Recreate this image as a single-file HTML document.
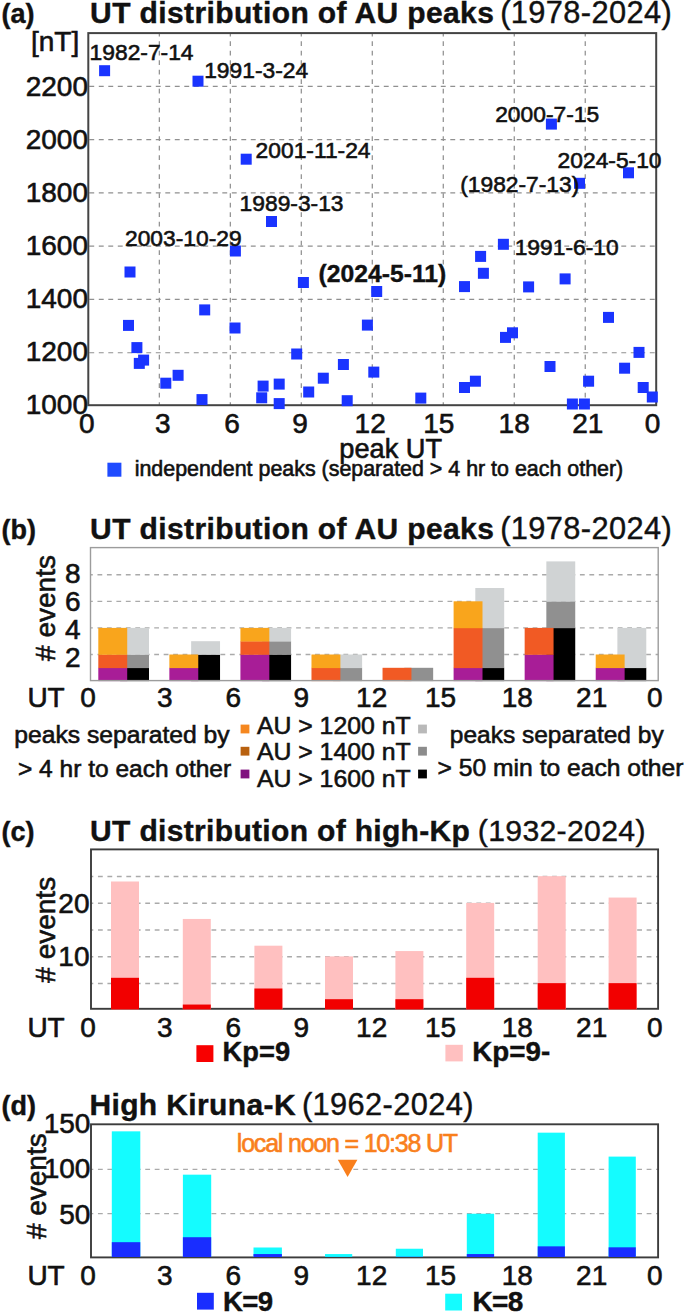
<!DOCTYPE html>
<html lang="en">
<head>
<meta charset="utf-8">
<title>UT distribution of AU peaks</title>
<style>
html,body{margin:0;padding:0;background:#fff;}
svg{display:block;font-family:'Liberation Sans', sans-serif;}
</style>
</head>
<body>
<svg width="685" height="1314" viewBox="0 0 685 1314">
<rect x="0" y="0" width="685" height="1314" fill="#ffffff"/>
<text x="1.5" y="23.3" font-size="27" font-weight="bold" text-anchor="start" fill="#111" stroke="#111" stroke-width="0.4">(a)</text>
<text x="90.1" y="23.3" font-size="30" fill="#111" stroke="#111" stroke-width="0.4" letter-spacing="0.38" xml:space="preserve"><tspan font-weight="bold">UT distribution of AU peaks</tspan><tspan font-weight="normal" font-size="30.8" dx="-3"> (1978-2024)</tspan></text>
<line x1="159.29" y1="33.10" x2="159.29" y2="405.20" stroke="#7c7c7c" stroke-width="1.05" stroke-dasharray="4.9 4.6" stroke-dashoffset="1.45"/>
<line x1="230.28" y1="33.10" x2="230.28" y2="405.20" stroke="#7c7c7c" stroke-width="1.05" stroke-dasharray="4.9 4.6" stroke-dashoffset="1.45"/>
<line x1="301.26" y1="33.10" x2="301.26" y2="405.20" stroke="#7c7c7c" stroke-width="1.05" stroke-dasharray="4.9 4.6" stroke-dashoffset="1.45"/>
<line x1="372.25" y1="33.10" x2="372.25" y2="405.20" stroke="#7c7c7c" stroke-width="1.05" stroke-dasharray="4.9 4.6" stroke-dashoffset="1.45"/>
<line x1="443.24" y1="33.10" x2="443.24" y2="405.20" stroke="#7c7c7c" stroke-width="1.05" stroke-dasharray="4.9 4.6" stroke-dashoffset="1.45"/>
<line x1="514.23" y1="33.10" x2="514.23" y2="405.20" stroke="#7c7c7c" stroke-width="1.05" stroke-dasharray="4.9 4.6" stroke-dashoffset="1.45"/>
<line x1="585.21" y1="33.10" x2="585.21" y2="405.20" stroke="#7c7c7c" stroke-width="1.05" stroke-dasharray="4.9 4.6" stroke-dashoffset="1.45"/>
<line x1="88.30" y1="352.72" x2="656.20" y2="352.72" stroke="#909090" stroke-width="1.15" stroke-dasharray="4.9 4.6" stroke-dashoffset="8.5"/>
<line x1="88.30" y1="299.44" x2="656.20" y2="299.44" stroke="#909090" stroke-width="1.15" stroke-dasharray="4.9 4.6" stroke-dashoffset="8.5"/>
<line x1="88.30" y1="246.16" x2="656.20" y2="246.16" stroke="#909090" stroke-width="1.15" stroke-dasharray="4.9 4.6" stroke-dashoffset="8.5"/>
<line x1="88.30" y1="192.88" x2="656.20" y2="192.88" stroke="#909090" stroke-width="1.15" stroke-dasharray="4.9 4.6" stroke-dashoffset="8.5"/>
<line x1="88.30" y1="139.60" x2="656.20" y2="139.60" stroke="#909090" stroke-width="1.15" stroke-dasharray="4.9 4.6" stroke-dashoffset="8.5"/>
<line x1="88.30" y1="86.32" x2="656.20" y2="86.32" stroke="#909090" stroke-width="1.15" stroke-dasharray="4.9 4.6" stroke-dashoffset="8.5"/>
<text x="31" y="51.3" font-size="28" text-anchor="start" fill="#111" stroke="#111" stroke-width="0.6">[nT]</text>
<text x="88" y="95.6" font-size="28" text-anchor="end" fill="#111" stroke="#111" stroke-width="0.6">2200</text>
<text x="88" y="148.9" font-size="28" text-anchor="end" fill="#111" stroke="#111" stroke-width="0.6">2000</text>
<text x="88" y="202.1" font-size="28" text-anchor="end" fill="#111" stroke="#111" stroke-width="0.6">1800</text>
<text x="88" y="255.4" font-size="28" text-anchor="end" fill="#111" stroke="#111" stroke-width="0.6">1600</text>
<text x="88" y="308.4" font-size="28" text-anchor="end" fill="#111" stroke="#111" stroke-width="0.6">1400</text>
<text x="88" y="361.3" font-size="28" text-anchor="end" fill="#111" stroke="#111" stroke-width="0.6">1200</text>
<text x="88" y="414.4" font-size="28" text-anchor="end" fill="#111" stroke="#111" stroke-width="0.6">1000</text>
<text x="86.7" y="433.1" font-size="28" text-anchor="middle" fill="#111" stroke="#111" stroke-width="0.6">0</text>
<text x="162.8" y="433.1" font-size="28" text-anchor="middle" fill="#111" stroke="#111" stroke-width="0.6">3</text>
<text x="232" y="433.1" font-size="28" text-anchor="middle" fill="#111" stroke="#111" stroke-width="0.6">6</text>
<text x="300" y="433.1" font-size="28" text-anchor="middle" fill="#111" stroke="#111" stroke-width="0.6">9</text>
<text x="370.2" y="433.1" font-size="28" text-anchor="middle" fill="#111" stroke="#111" stroke-width="0.6">12</text>
<text x="438.8" y="433.1" font-size="28" text-anchor="middle" fill="#111" stroke="#111" stroke-width="0.6">15</text>
<text x="514.2" y="433.1" font-size="28" text-anchor="middle" fill="#111" stroke="#111" stroke-width="0.6">18</text>
<text x="587.8" y="433.1" font-size="28" text-anchor="middle" fill="#111" stroke="#111" stroke-width="0.6">21</text>
<text x="652.5" y="433.1" font-size="28" text-anchor="middle" fill="#111" stroke="#111" stroke-width="0.6">0</text>
<text x="339.3" y="458.2" font-size="27.2" text-anchor="start" fill="#111" stroke="#111" stroke-width="0.6">peak UT</text>
<rect x="88.3" y="33.1" width="567.9000000000001" height="372.09999999999997" fill="none" stroke="#444" stroke-width="2"/>
<rect x="99.10" y="65.20" width="11.00" height="11.00" fill="#1a34ff"/>
<rect x="192.50" y="75.70" width="11.00" height="11.00" fill="#1a34ff"/>
<rect x="240.70" y="153.70" width="11.00" height="11.00" fill="#1a34ff"/>
<rect x="266.00" y="216.00" width="11.00" height="11.00" fill="#1a34ff"/>
<rect x="229.90" y="245.50" width="11.00" height="11.00" fill="#1a34ff"/>
<rect x="124.50" y="266.50" width="11.00" height="11.00" fill="#1a34ff"/>
<rect x="123.00" y="319.90" width="11.00" height="11.00" fill="#1a34ff"/>
<rect x="131.40" y="342.10" width="11.00" height="11.00" fill="#1a34ff"/>
<rect x="138.10" y="354.60" width="11.00" height="11.00" fill="#1a34ff"/>
<rect x="133.80" y="357.90" width="11.00" height="11.00" fill="#1a34ff"/>
<rect x="160.30" y="377.70" width="11.00" height="11.00" fill="#1a34ff"/>
<rect x="172.60" y="369.80" width="11.00" height="11.00" fill="#1a34ff"/>
<rect x="199.20" y="304.40" width="11.00" height="11.00" fill="#1a34ff"/>
<rect x="196.50" y="394.10" width="11.00" height="11.00" fill="#1a34ff"/>
<rect x="229.50" y="322.50" width="11.00" height="11.00" fill="#1a34ff"/>
<rect x="257.60" y="380.60" width="11.00" height="11.00" fill="#1a34ff"/>
<rect x="256.20" y="392.30" width="11.00" height="11.00" fill="#1a34ff"/>
<rect x="273.70" y="378.60" width="11.00" height="11.00" fill="#1a34ff"/>
<rect x="273.70" y="398.10" width="11.00" height="11.00" fill="#1a34ff"/>
<rect x="297.90" y="277.00" width="11.00" height="11.00" fill="#1a34ff"/>
<rect x="371.20" y="286.00" width="11.00" height="11.00" fill="#1a34ff"/>
<rect x="361.90" y="319.60" width="11.00" height="11.00" fill="#1a34ff"/>
<rect x="291.20" y="348.50" width="11.00" height="11.00" fill="#1a34ff"/>
<rect x="337.90" y="359.00" width="11.00" height="11.00" fill="#1a34ff"/>
<rect x="368.30" y="366.60" width="11.00" height="11.00" fill="#1a34ff"/>
<rect x="317.80" y="372.70" width="11.00" height="11.00" fill="#1a34ff"/>
<rect x="303.20" y="386.50" width="11.00" height="11.00" fill="#1a34ff"/>
<rect x="341.70" y="395.20" width="11.00" height="11.00" fill="#1a34ff"/>
<rect x="415.30" y="392.60" width="11.00" height="11.00" fill="#1a34ff"/>
<rect x="497.90" y="238.80" width="11.00" height="11.00" fill="#1a34ff"/>
<rect x="475.10" y="250.90" width="11.00" height="11.00" fill="#1a34ff"/>
<rect x="477.90" y="267.80" width="11.00" height="11.00" fill="#1a34ff"/>
<rect x="459.00" y="281.10" width="11.00" height="11.00" fill="#1a34ff"/>
<rect x="523.10" y="281.40" width="11.00" height="11.00" fill="#1a34ff"/>
<rect x="559.60" y="273.40" width="11.00" height="11.00" fill="#1a34ff"/>
<rect x="603.00" y="311.90" width="11.00" height="11.00" fill="#1a34ff"/>
<rect x="507.00" y="327.30" width="11.00" height="11.00" fill="#1a34ff"/>
<rect x="500.00" y="331.90" width="11.00" height="11.00" fill="#1a34ff"/>
<rect x="633.50" y="346.90" width="11.00" height="11.00" fill="#1a34ff"/>
<rect x="544.50" y="361.00" width="11.00" height="11.00" fill="#1a34ff"/>
<rect x="619.10" y="362.70" width="11.00" height="11.00" fill="#1a34ff"/>
<rect x="583.10" y="375.70" width="11.00" height="11.00" fill="#1a34ff"/>
<rect x="469.90" y="375.70" width="11.00" height="11.00" fill="#1a34ff"/>
<rect x="459.00" y="382.00" width="11.00" height="11.00" fill="#1a34ff"/>
<rect x="637.70" y="382.00" width="11.00" height="11.00" fill="#1a34ff"/>
<rect x="646.80" y="391.50" width="11.00" height="11.00" fill="#1a34ff"/>
<rect x="566.90" y="398.50" width="11.00" height="11.00" fill="#1a34ff"/>
<rect x="578.90" y="398.50" width="11.00" height="11.00" fill="#1a34ff"/>
<rect x="545.90" y="118.60" width="11.00" height="11.00" fill="#1a34ff"/>
<rect x="623.00" y="167.30" width="11.00" height="11.00" fill="#1a34ff"/>
<rect x="574.00" y="177.80" width="11.00" height="11.00" fill="#1a34ff"/>
<text x="89.6" y="60.2" font-size="22.8" text-anchor="start" fill="#111" stroke="#111" stroke-width="0.6">1982-7-14</text>
<text x="204.2" y="77.7" font-size="22.8" text-anchor="start" fill="#111" stroke="#111" stroke-width="0.6">1991-3-24</text>
<text x="255.6" y="158.3" font-size="22.8" text-anchor="start" fill="#111" stroke="#111" stroke-width="0.6">2001-11-24</text>
<text x="239.6" y="210.9" font-size="22.8" text-anchor="start" fill="#111" stroke="#111" stroke-width="0.6">1989-3-13</text>
<text x="125.0" y="246.1" font-size="22.8" text-anchor="start" fill="#111" stroke="#111" stroke-width="0.6">2003-10-29</text>
<text x="495.2" y="122.1" font-size="22.8" text-anchor="start" fill="#111" stroke="#111" stroke-width="0.6">2000-7-15</text>
<text x="557.6" y="167.9" font-size="22.8" text-anchor="start" fill="#111" stroke="#111" stroke-width="0.6">2024-5-10</text>
<text x="460.2" y="192.4" font-size="22.8" text-anchor="start" fill="#111" stroke="#111" stroke-width="0.6">(1982-7-13)</text>
<text x="514.7" y="254.9" font-size="22.8" text-anchor="start" fill="#111" stroke="#111" stroke-width="0.6">1991-6-10</text>
<text x="318.6" y="282" font-size="24.7" font-weight="bold" text-anchor="start" fill="#111" stroke="#111" stroke-width="0.4">(2024-5-11)</text>
<rect x="107.40" y="462.70" width="14.00" height="14.00" fill="#1f4bff"/>
<text x="134.7" y="476.2" font-size="21.42" text-anchor="start" fill="#111" stroke="#111" stroke-width="0.6">independent peaks (separated &gt; 4 hr to each other)</text>
<text x="1.5" y="539" font-size="27" font-weight="bold" text-anchor="start" fill="#111" stroke="#111" stroke-width="0.4">(b)</text>
<text x="90.1" y="539" font-size="30" fill="#111" stroke="#111" stroke-width="0.4" letter-spacing="0.38" xml:space="preserve"><tspan font-weight="bold">UT distribution of AU peaks</tspan><tspan font-weight="normal" font-size="30.8" dx="-3"> (1978-2024)</tspan></text>
<line x1="90.50" y1="654.50" x2="658.20" y2="654.50" stroke="#aaaaaa" stroke-width="1.35" stroke-dasharray="4.8 4.66" stroke-dashoffset="2.5"/>
<line x1="90.50" y1="627.90" x2="658.20" y2="627.90" stroke="#aaaaaa" stroke-width="1.35" stroke-dasharray="4.8 4.66" stroke-dashoffset="2.5"/>
<line x1="90.50" y1="601.30" x2="658.20" y2="601.30" stroke="#aaaaaa" stroke-width="1.35" stroke-dasharray="4.8 4.66" stroke-dashoffset="2.5"/>
<line x1="90.50" y1="574.70" x2="658.20" y2="574.70" stroke="#aaaaaa" stroke-width="1.35" stroke-dasharray="4.8 4.66" stroke-dashoffset="2.5"/>
<rect x="120.10" y="667.80" width="28.90" height="13.30" fill="#000"/>
<rect x="120.10" y="654.50" width="28.90" height="13.60" fill="#909090"/>
<rect x="120.10" y="627.90" width="28.90" height="26.90" fill="#d0d3d4"/>
<rect x="98.30" y="667.80" width="28.90" height="13.30" fill="#a81d97"/>
<rect x="98.30" y="654.50" width="28.90" height="13.60" fill="#f15a24"/>
<rect x="98.30" y="627.90" width="28.90" height="26.90" fill="#f9a51c"/>
<rect x="191.14" y="654.50" width="28.90" height="26.60" fill="#000"/>
<rect x="191.14" y="641.20" width="28.90" height="13.60" fill="#d0d3d4"/>
<rect x="169.36" y="667.80" width="28.90" height="13.30" fill="#a81d97"/>
<rect x="169.36" y="654.50" width="28.90" height="13.60" fill="#f9a51c"/>
<rect x="262.18" y="654.50" width="28.90" height="26.60" fill="#000"/>
<rect x="262.18" y="641.20" width="28.90" height="13.60" fill="#909090"/>
<rect x="262.18" y="627.90" width="28.90" height="13.60" fill="#d0d3d4"/>
<rect x="240.42" y="654.50" width="28.90" height="26.60" fill="#a81d97"/>
<rect x="240.42" y="641.20" width="28.90" height="13.60" fill="#f15a24"/>
<rect x="240.42" y="627.90" width="28.90" height="13.60" fill="#f9a51c"/>
<rect x="333.22" y="667.80" width="28.90" height="13.30" fill="#909090"/>
<rect x="333.22" y="654.50" width="28.90" height="13.60" fill="#d0d3d4"/>
<rect x="311.48" y="667.80" width="28.90" height="13.30" fill="#f15a24"/>
<rect x="311.48" y="654.50" width="28.90" height="13.60" fill="#f9a51c"/>
<rect x="404.26" y="667.80" width="28.90" height="13.30" fill="#909090"/>
<rect x="382.54" y="667.80" width="28.90" height="13.30" fill="#f15a24"/>
<rect x="475.30" y="667.80" width="28.90" height="13.30" fill="#000"/>
<rect x="475.30" y="627.90" width="28.90" height="40.20" fill="#909090"/>
<rect x="475.30" y="588.00" width="28.90" height="40.20" fill="#d0d3d4"/>
<rect x="453.60" y="667.80" width="28.90" height="13.30" fill="#a81d97"/>
<rect x="453.60" y="627.90" width="28.90" height="40.20" fill="#f15a24"/>
<rect x="453.60" y="601.30" width="28.90" height="26.90" fill="#f9a51c"/>
<rect x="546.34" y="627.90" width="28.90" height="53.20" fill="#000"/>
<rect x="546.34" y="601.30" width="28.90" height="26.90" fill="#909090"/>
<rect x="546.34" y="561.40" width="28.90" height="40.20" fill="#d0d3d4"/>
<rect x="524.66" y="654.50" width="28.90" height="26.60" fill="#a81d97"/>
<rect x="524.66" y="627.90" width="28.90" height="26.90" fill="#f15a24"/>
<rect x="617.38" y="667.80" width="28.90" height="13.30" fill="#000"/>
<rect x="617.38" y="627.90" width="28.90" height="40.20" fill="#d0d3d4"/>
<rect x="595.72" y="667.80" width="28.90" height="13.30" fill="#a81d97"/>
<rect x="595.72" y="654.50" width="28.90" height="13.60" fill="#f9a51c"/>
<rect x="90.5" y="547.6" width="567.7" height="133.0" fill="none" stroke="#9c9c9c" stroke-width="1.4"/>
<text x="72.8" y="582.5" font-size="28" text-anchor="middle" fill="#111" stroke="#111" stroke-width="0.6">8</text>
<text x="72.8" y="610.5" font-size="28" text-anchor="middle" fill="#111" stroke="#111" stroke-width="0.6">6</text>
<text x="72.8" y="638.5" font-size="28" text-anchor="middle" fill="#111" stroke="#111" stroke-width="0.6">4</text>
<text x="72.8" y="666.5" font-size="28" text-anchor="middle" fill="#111" stroke="#111" stroke-width="0.6">2</text>
<text transform="translate(54.6,608) rotate(-90)" font-size="28" text-anchor="middle" fill="#111" stroke="#111" stroke-width="0.6"># events</text>
<text x="27.4" y="707.2" font-size="28" text-anchor="start" fill="#111" stroke="#111" stroke-width="0.6">UT</text>
<text x="88" y="707.2" font-size="28" text-anchor="middle" fill="#111" stroke="#111" stroke-width="0.6">0</text>
<text x="164.7" y="707.2" font-size="28" text-anchor="middle" fill="#111" stroke="#111" stroke-width="0.6">3</text>
<text x="233.3" y="707.2" font-size="28" text-anchor="middle" fill="#111" stroke="#111" stroke-width="0.6">6</text>
<text x="301.4" y="707.2" font-size="28" text-anchor="middle" fill="#111" stroke="#111" stroke-width="0.6">9</text>
<text x="371.7" y="707.2" font-size="28" text-anchor="middle" fill="#111" stroke="#111" stroke-width="0.6">12</text>
<text x="440.5" y="707.2" font-size="28" text-anchor="middle" fill="#111" stroke="#111" stroke-width="0.6">15</text>
<text x="517.3" y="707.2" font-size="28" text-anchor="middle" fill="#111" stroke="#111" stroke-width="0.6">18</text>
<text x="591.7" y="707.2" font-size="28" text-anchor="middle" fill="#111" stroke="#111" stroke-width="0.6">21</text>
<text x="654.8" y="707.2" font-size="28" text-anchor="middle" fill="#111" stroke="#111" stroke-width="0.6">0</text>
<text x="14.2" y="742.7" font-size="24.7" text-anchor="start" fill="#111" stroke="#111" stroke-width="0.6">peaks separated by</text>
<text x="18.0" y="777.2" font-size="24.5" text-anchor="start" fill="#111" stroke="#111" stroke-width="0.6">&gt; 4 hr to each other</text>
<rect x="240.60" y="724.60" width="8.80" height="8.80" fill="#f5871f"/>
<rect x="418.10" y="724.60" width="8.80" height="8.80" fill="#b9b9b9"/>
<text x="256.9" y="734.0" font-size="24.8" text-anchor="start" fill="#111" stroke="#111" stroke-width="0.6">AU &gt; 1200 nT</text>
<rect x="240.60" y="746.80" width="8.80" height="8.80" fill="#b8610f"/>
<rect x="418.10" y="746.80" width="8.80" height="8.80" fill="#8c8c8c"/>
<text x="256.9" y="760.3" font-size="24.8" text-anchor="start" fill="#111" stroke="#111" stroke-width="0.6">AU &gt; 1400 nT</text>
<rect x="240.60" y="769.60" width="8.80" height="8.80" fill="#80117f"/>
<rect x="418.10" y="769.60" width="8.80" height="8.80" fill="#000000"/>
<text x="256.9" y="786.5" font-size="24.8" text-anchor="start" fill="#111" stroke="#111" stroke-width="0.6">AU &gt; 1600 nT</text>
<text x="449.8" y="743.0" font-size="24.5" text-anchor="start" fill="#111" stroke="#111" stroke-width="0.6">peaks separated by</text>
<text x="437.6" y="775.9" font-size="24.65" text-anchor="start" fill="#111" stroke="#111" stroke-width="0.6">&gt; 50 min to each other</text>
<text x="1.5" y="840.7" font-size="27" font-weight="bold" text-anchor="start" fill="#111" stroke="#111" stroke-width="0.4">(c)</text>
<text x="90.1" y="840.7" font-size="30" fill="#111" stroke="#111" stroke-width="0.4" letter-spacing="0.33" xml:space="preserve"><tspan font-weight="bold">UT distribution of high-Kp</tspan><tspan font-weight="normal" font-size="30.2" dx="-1.2"> (1932-2024)</tspan></text>
<line x1="91.00" y1="983.45" x2="658.10" y2="983.45" stroke="#aaaaaa" stroke-width="1.35" stroke-dasharray="4.8 4.66" stroke-dashoffset="2.5"/>
<line x1="91.00" y1="956.70" x2="658.10" y2="956.70" stroke="#aaaaaa" stroke-width="1.35" stroke-dasharray="4.8 4.66" stroke-dashoffset="2.5"/>
<line x1="91.00" y1="929.95" x2="658.10" y2="929.95" stroke="#aaaaaa" stroke-width="1.35" stroke-dasharray="4.8 4.66" stroke-dashoffset="2.5"/>
<line x1="91.00" y1="903.20" x2="658.10" y2="903.20" stroke="#aaaaaa" stroke-width="1.35" stroke-dasharray="4.8 4.66" stroke-dashoffset="2.5"/>
<line x1="91.00" y1="876.45" x2="658.10" y2="876.45" stroke="#aaaaaa" stroke-width="1.35" stroke-dasharray="4.8 4.66" stroke-dashoffset="2.5"/>
<rect x="91" y="849.4" width="567.1" height="159.39999999999998" fill="none" stroke="#3c3c3c" stroke-width="1.9"/>
<rect x="111.00" y="881.50" width="28.00" height="127.90" fill="#ffc0c0"/>
<rect x="111.00" y="977.80" width="28.00" height="31.60" fill="#f20000"/>
<rect x="182.80" y="918.95" width="28.00" height="90.45" fill="#ffc0c0"/>
<rect x="182.80" y="1004.55" width="28.00" height="4.85" fill="#f20000"/>
<rect x="254.40" y="945.70" width="28.00" height="63.70" fill="#ffc0c0"/>
<rect x="254.40" y="988.50" width="28.00" height="20.90" fill="#f20000"/>
<rect x="325.00" y="956.40" width="28.00" height="53.00" fill="#ffc0c0"/>
<rect x="325.00" y="999.20" width="28.00" height="10.20" fill="#f20000"/>
<rect x="395.40" y="951.05" width="28.00" height="58.35" fill="#ffc0c0"/>
<rect x="395.40" y="999.20" width="28.00" height="10.20" fill="#f20000"/>
<rect x="466.20" y="902.90" width="28.00" height="106.50" fill="#ffc0c0"/>
<rect x="466.20" y="977.80" width="28.00" height="31.60" fill="#f20000"/>
<rect x="537.70" y="876.15" width="28.00" height="133.25" fill="#ffc0c0"/>
<rect x="537.70" y="983.15" width="28.00" height="26.25" fill="#f20000"/>
<rect x="608.60" y="897.55" width="28.00" height="111.85" fill="#ffc0c0"/>
<rect x="608.60" y="983.15" width="28.00" height="26.25" fill="#f20000"/>
<text x="89.5" y="912.8" font-size="28" text-anchor="end" fill="#111" stroke="#111" stroke-width="0.6">20</text>
<text x="89.5" y="965.9" font-size="28" text-anchor="end" fill="#111" stroke="#111" stroke-width="0.6">10</text>
<text transform="translate(55.2,929.8) rotate(-90)" font-size="28" text-anchor="middle" fill="#111" stroke="#111" stroke-width="0.6"># events</text>
<text x="27.4" y="1036.7" font-size="28" text-anchor="start" fill="#111" stroke="#111" stroke-width="0.6">UT</text>
<text x="88" y="1036.7" font-size="28" text-anchor="middle" fill="#111" stroke="#111" stroke-width="0.6">0</text>
<text x="164.7" y="1036.7" font-size="28" text-anchor="middle" fill="#111" stroke="#111" stroke-width="0.6">3</text>
<text x="233.3" y="1036.7" font-size="28" text-anchor="middle" fill="#111" stroke="#111" stroke-width="0.6">6</text>
<text x="301.4" y="1036.7" font-size="28" text-anchor="middle" fill="#111" stroke="#111" stroke-width="0.6">9</text>
<text x="371.7" y="1036.7" font-size="28" text-anchor="middle" fill="#111" stroke="#111" stroke-width="0.6">12</text>
<text x="440.5" y="1036.7" font-size="28" text-anchor="middle" fill="#111" stroke="#111" stroke-width="0.6">15</text>
<text x="517.3" y="1036.7" font-size="28" text-anchor="middle" fill="#111" stroke="#111" stroke-width="0.6">18</text>
<text x="591.7" y="1036.7" font-size="28" text-anchor="middle" fill="#111" stroke="#111" stroke-width="0.6">21</text>
<text x="654.8" y="1036.7" font-size="28" text-anchor="middle" fill="#111" stroke="#111" stroke-width="0.6">0</text>
<rect x="196.40" y="1045.20" width="17.00" height="16.80" fill="#f80000"/>
<text x="222.6" y="1061.3" font-size="27.3" font-weight="bold" text-anchor="start" fill="#111" stroke="#111" stroke-width="0.4">Kp=9</text>
<rect x="445.40" y="1044.80" width="17.40" height="16.60" fill="#ffc0c0"/>
<text x="472.2" y="1060.9" font-size="27.8" font-weight="bold" text-anchor="start" fill="#111" stroke="#111" stroke-width="0.4">Kp=9-</text>
<text x="1.5" y="1115.2" font-size="27" font-weight="bold" text-anchor="start" fill="#111" stroke="#111" stroke-width="0.4">(d)</text>
<text x="89.4" y="1115.2" font-size="30" fill="#111" stroke="#111" stroke-width="0.4" letter-spacing="0.38" xml:space="preserve"><tspan font-weight="bold">High Kiruna-K</tspan><tspan font-weight="normal" font-size="30.8" dx="-3"> (1962-2024)</tspan></text>
<line x1="91.00" y1="1213.65" x2="658.10" y2="1213.65" stroke="#aaaaaa" stroke-width="1.35" stroke-dasharray="4.8 4.66" stroke-dashoffset="2.5"/>
<line x1="91.00" y1="1169.35" x2="658.10" y2="1169.35" stroke="#aaaaaa" stroke-width="1.35" stroke-dasharray="4.8 4.66" stroke-dashoffset="2.5"/>
<rect x="91" y="1124.3" width="567.1" height="133.10000000000014" fill="none" stroke="#3c3c3c" stroke-width="1.9"/>
<rect x="111.80" y="1131.34" width="28.50" height="125.66" fill="#14fcff"/>
<rect x="111.80" y="1242.18" width="28.50" height="14.82" fill="#192dff"/>
<rect x="182.90" y="1174.67" width="28.30" height="82.33" fill="#14fcff"/>
<rect x="182.90" y="1237.22" width="28.30" height="19.78" fill="#192dff"/>
<rect x="253.50" y="1247.50" width="28.40" height="9.50" fill="#14fcff"/>
<rect x="253.50" y="1254.06" width="28.40" height="2.94" fill="#192dff"/>
<rect x="325.00" y="1254.06" width="27.20" height="2.94" fill="#14fcff"/>
<rect x="325.00" y="1256.89" width="27.20" height="0.11" fill="#192dff"/>
<rect x="395.80" y="1248.74" width="27.20" height="8.26" fill="#14fcff"/>
<rect x="395.80" y="1256.71" width="27.20" height="0.29" fill="#192dff"/>
<rect x="466.80" y="1213.74" width="27.30" height="43.26" fill="#14fcff"/>
<rect x="466.80" y="1254.06" width="27.30" height="2.94" fill="#192dff"/>
<rect x="537.70" y="1132.67" width="27.20" height="124.33" fill="#14fcff"/>
<rect x="537.70" y="1246.35" width="27.20" height="10.65" fill="#192dff"/>
<rect x="608.60" y="1156.60" width="27.20" height="100.40" fill="#14fcff"/>
<rect x="608.60" y="1247.32" width="27.20" height="9.68" fill="#192dff"/>
<text x="90.4" y="1132.9" font-size="28" text-anchor="end" fill="#111" stroke="#111" stroke-width="0.6">150</text>
<text x="90.4" y="1178.4" font-size="28" text-anchor="end" fill="#111" stroke="#111" stroke-width="0.6">100</text>
<text x="90.4" y="1224" font-size="28" text-anchor="end" fill="#111" stroke="#111" stroke-width="0.6">50</text>
<text transform="translate(46.2,1186.2) rotate(-90)" font-size="28" text-anchor="middle" fill="#111" stroke="#111" stroke-width="0.6"># events</text>
<text x="236.8" y="1151.9" font-size="25" text-anchor="start" fill="#f97f1c" stroke="#f97f1c" stroke-width="0.6" letter-spacing="-1.2">local noon = 10:38 UT</text>
<polygon points="337.8,1159.8 357.4,1159.8 347.6,1177" fill="#f97f1c"/>
<text x="27.4" y="1285" font-size="28" text-anchor="start" fill="#111" stroke="#111" stroke-width="0.6">UT</text>
<text x="88" y="1285" font-size="28" text-anchor="middle" fill="#111" stroke="#111" stroke-width="0.6">0</text>
<text x="164.7" y="1285" font-size="28" text-anchor="middle" fill="#111" stroke="#111" stroke-width="0.6">3</text>
<text x="233.3" y="1285" font-size="28" text-anchor="middle" fill="#111" stroke="#111" stroke-width="0.6">6</text>
<text x="301.4" y="1285" font-size="28" text-anchor="middle" fill="#111" stroke="#111" stroke-width="0.6">9</text>
<text x="371.7" y="1285" font-size="28" text-anchor="middle" fill="#111" stroke="#111" stroke-width="0.6">12</text>
<text x="440.5" y="1285" font-size="28" text-anchor="middle" fill="#111" stroke="#111" stroke-width="0.6">15</text>
<text x="517.3" y="1285" font-size="28" text-anchor="middle" fill="#111" stroke="#111" stroke-width="0.6">18</text>
<text x="591.7" y="1285" font-size="28" text-anchor="middle" fill="#111" stroke="#111" stroke-width="0.6">21</text>
<text x="654.8" y="1285" font-size="28" text-anchor="middle" fill="#111" stroke="#111" stroke-width="0.6">0</text>
<rect x="197.00" y="1292.80" width="16.80" height="16.80" fill="#192dff"/>
<text x="223" y="1310.5" font-size="27.6" font-weight="bold" text-anchor="start" fill="#111" stroke="#111" stroke-width="0.4" letter-spacing="-0.7">K=9</text>
<rect x="445.20" y="1293.70" width="16.80" height="16.80" fill="#14fcff"/>
<text x="472.4" y="1310.7" font-size="28" font-weight="bold" text-anchor="start" fill="#111" stroke="#111" stroke-width="0.4" letter-spacing="-0.6">K=8</text>
</svg>
</body>
</html>
